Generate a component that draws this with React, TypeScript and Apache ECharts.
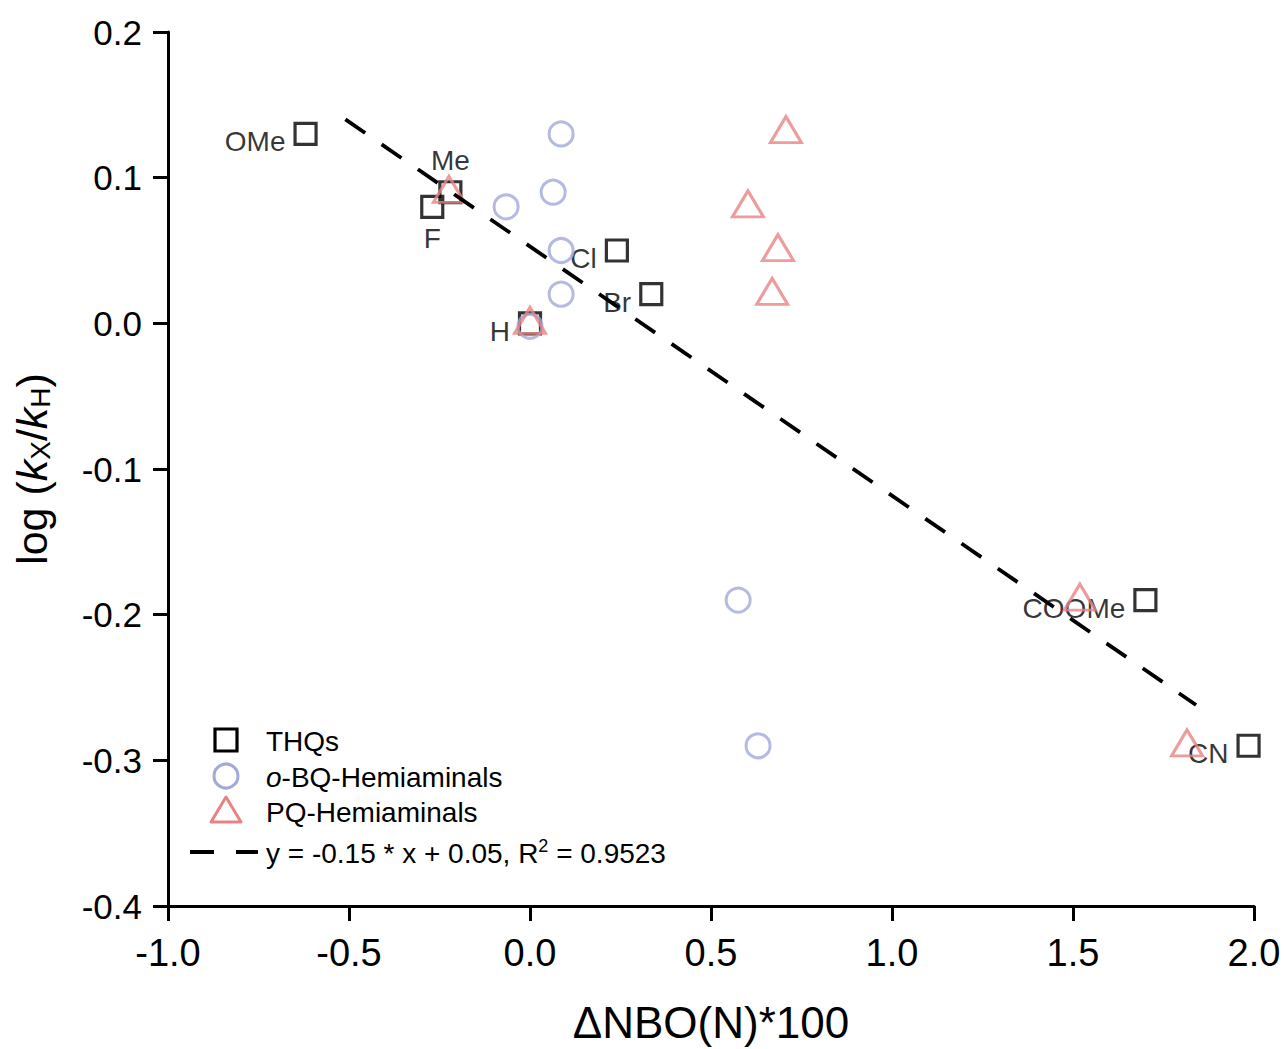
import React, { useEffect, useRef } from "react";
import * as echarts from "echarts";

const thqLabels = ["OMe", "Me", "F", "H", "Cl", "Br", "COOMe", "CN"];
const thqX = [-0.62, -0.22, -0.27, 0.0, 0.24, 0.335, 1.7, 1.985];
const thqY = [0.13, 0.09, 0.08, 0.0, 0.05, 0.02, -0.19, -0.29];
const labelPos = ["left", "top", "bottom", "left", "left", "left", "left", "left"];

const bqX = [0.086, 0.064, -0.066, 0.086, 0.086, 0.0, 0.575, 0.63];
const bqY = [0.13, 0.09, 0.08, 0.05, 0.02, -0.002, -0.19, -0.29];

const pqX = [0.707, 0.602, 0.685, 0.669, -0.224, 0.0, 1.519, 1.815];
const pqY = [0.133, 0.082, 0.052, 0.022, 0.092, 0.002, -0.188, -0.288];

const fitX = [-0.51, 1.84];
const fitY = [0.14, -0.262];

const xTicks = [-1.0, 2.0, 0.5];
const yTicks = [-0.4, 0.2, 0.1];

const seriesNames = ["THQs", "o-BQ-Hemiaminals", "PQ-Hemiaminals", "y = -0.15 * x + 0.05, R\u00B2 = 0.9523"];

const SANS = "'Liberation Sans', Arial, sans-serif";
const BLUE = "#a3a9da";
const RED = "#e78383";

export default function App() {
  const ref = useRef<HTMLDivElement>(null);
  useEffect(() => {
    if (!ref.current) return;
    const chart = echarts.init(ref.current, null, { renderer: "svg" });
    const thqData = thqX.map((x, i) => ({
      value: [x, thqY[i]],
      label: {
        show: true,
        formatter: thqLabels[i],
        position: labelPos[i],
        distance: labelPos[i] === "left" ? 8 : 6,
        offset: labelPos[i] === "left" ? [0, 8] : [0, 0],
        fontSize: 28,
        fontFamily: SANS,
        color: "#000",
      },
    }));
    const legendText = (y: number, text: string, rich?: any) => ({
      type: "text",
      x: 266,
      y,
      z: 100,
      style: {
        text,
        fontSize: 28,
        fontFamily: SANS,
        fill: "#000",
        verticalAlign: "middle",
        align: "left",
        rich,
      },
    });
    chart.setOption({
      animation: false,
      backgroundColor: "#fff",
      grid: { left: 168, top: 32, right: 30, bottom: 141, containLabel: false },
      xAxis: {
        type: "value",
        min: xTicks[0],
        max: xTicks[1],
        interval: xTicks[2],
        name: "\u0394NBO(N)*100",
        nameLocation: "middle",
        nameGap: 94,
        nameTextStyle: { fontSize: 44, fontFamily: SANS, color: "#000" },
        axisLine: { show: true, onZero: false, lineStyle: { color: "#000", width: 3 } },
        axisTick: { show: true, length: 15, lineStyle: { color: "#000", width: 3 } },
        axisLabel: {
          fontSize: 38,
          fontFamily: SANS,
          color: "#000",
          margin: 28,
          formatter: (v: number) => v.toFixed(1),
        },
        splitLine: { show: false },
      },
      yAxis: {
        type: "value",
        min: yTicks[0],
        max: yTicks[1],
        interval: yTicks[2],
        name: "log ({k|k}{sub|X}/{k|k}{sub|H})",
        nameLocation: "middle",
        nameGap: 114,
        nameTextStyle: {
          fontSize: 43,
          fontFamily: SANS,
          color: "#000",
          rich: {
            k: { fontSize: 43, fontFamily: SANS, fontStyle: "italic", color: "#000" },
            sub: { fontSize: 28, fontFamily: SANS, color: "#000", padding: [17, 0, 0, 0] },
          },
        },
        axisLine: { show: true, onZero: false, lineStyle: { color: "#000", width: 3 } },
        axisTick: { show: true, length: 15, lineStyle: { color: "#000", width: 3 } },
        axisLabel: {
          fontSize: 35,
          fontFamily: SANS,
          color: "#000",
          margin: 26,
          formatter: (v: number) => v.toFixed(1),
        },
        splitLine: { show: false },
      },
      graphic: [
        {
          type: "rect",
          z: 100,
          shape: { x: 215, y: 729, width: 22, height: 22 },
          style: { fill: "none", stroke: "#000", lineWidth: 3.2 },
        },
        legendText(741, seriesNames[0]),
        {
          type: "circle",
          z: 100,
          shape: { cx: 226, cy: 776, r: 12 },
          style: { fill: "none", stroke: BLUE, lineWidth: 3 },
        },
        legendText(777, "{i|o}{n|-BQ-Hemiaminals}", {
          i: { fontSize: 28, fontFamily: SANS, fontStyle: "italic", fill: "#000" },
          n: { fontSize: 28, fontFamily: SANS, fill: "#000" },
        }),
        {
          type: "polygon",
          z: 100,
          shape: { points: [[226, 797], [211, 822], [241, 822]] },
          style: { fill: "none", stroke: RED, lineWidth: 3, lineJoin: "round" },
        },
        legendText(812, seriesNames[2]),
        {
          type: "line",
          z: 100,
          shape: { x1: 190, y1: 852, x2: 258, y2: 852 },
          style: { stroke: "#000", lineWidth: 3.8, lineDash: [24, 22] },
        },
        legendText(853, "{n|y = -0.15 * x + 0.05, R}{s|2}{n| = 0.9523}", {
          n: { fontSize: 28, fontFamily: SANS, fill: "#000" },
          s: { fontSize: 18, fontFamily: SANS, fill: "#000", padding: [0, 0, 15, 0] },
        }),
      ],
      series: [
        {
          name: seriesNames[0],
          type: "scatter",
          symbol: "rect",
          symbolSize: 21,
          itemStyle: { color: "rgba(255,255,255,0)", borderColor: "#000", borderWidth: 3.2 },
          data: thqData,
          z: 2,
        },
        {
          name: seriesNames[1],
          type: "scatter",
          symbol: "circle",
          symbolSize: 24,
          itemStyle: { color: "rgba(255,255,255,0)", borderColor: BLUE, borderWidth: 3 },
          data: bqX.map((x, i) => [x, bqY[i]]),
          z: 3,
        },
        {
          name: seriesNames[2],
          type: "scatter",
          symbol: "triangle",
          symbolSize: [31, 26],
          itemStyle: { color: "rgba(255,255,255,0)", borderColor: RED, borderWidth: 3 },
          data: pqX.map((x, i) => [x, pqY[i]]),
          z: 4,
        },
        {
          name: seriesNames[3],
          type: "line",
          symbol: "none",
          lineStyle: { color: "#000", width: 3.8, type: [24, 20] },
          data: fitX.map((x, i) => [x, fitY[i]]),
          z: 5,
        },
      ],
    });
    return () => chart.dispose();
  }, []);
  return <div ref={ref} style={{ width: 1284, height: 1049, position: "absolute", left: 0, top: 0 }} />;
}
